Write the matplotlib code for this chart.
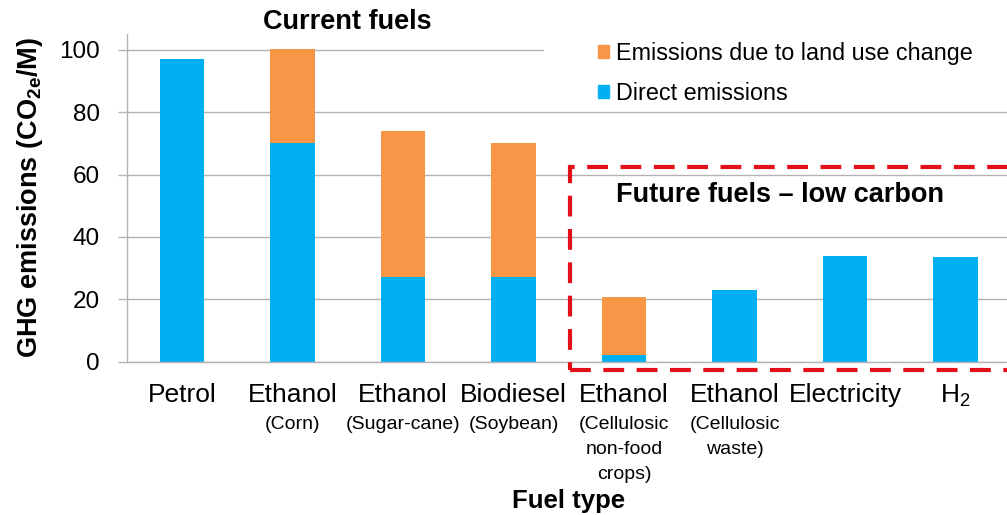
import matplotlib
matplotlib.use("agg")
import matplotlib.pyplot as plt
from matplotlib.patches import Patch, Rectangle
import numpy as np

plt.rcParams['font.family'] = ['Liberation Sans', 'DejaVu Sans']
plt.rcParams['mathtext.fontset'] = 'custom'
plt.rcParams['mathtext.rm'] = 'Liberation Sans'
plt.rcParams['mathtext.bf'] = 'Liberation Sans:bold'

# data
fuels = ['Petrol', 'Ethanol', 'Ethanol', 'Biodiesel', 'Ethanol', 'Ethanol',
         'Electricity', r'H$_\mathrm{2}$']
fuel_notes = [[], ['(Corn)'], ['(Sugar-cane)'], ['(Soybean)'],
              ['(Cellulosic', 'non-food', 'crops)'], ['(Cellulosic', 'waste)'],
              [], []]
direct = [97, 70, 27, 27, 2, 23, 34, 33.5]
land_use = [0, 30.3, 46.8, 43, 18.6, 0, 0, 0]
yticks = [0, 20, 40, 60, 80, 100]

blue = '#00B0F0'
orange = '#F79646'
grey = '#B3B3B3'

fig = plt.figure(figsize=(10.07, 5.15), dpi=100)
ax = fig.add_axes([0.1258, 0.2977, 0.8779, 0.636])

x = np.arange(len(fuels))
ax.bar(x, direct, width=0.4, color=blue, label='Direct emissions', zorder=2)
ax.bar(x, land_use, width=0.4, bottom=direct, color=orange,
       label='Emissions due to land use change', zorder=2)

ax.set_xlim(-0.5, len(fuels) - 0.5)
ax.set_ylim(0, 105)
ax.set_yticks(yticks)
ax.yaxis.grid(True, color=grey, linewidth=1.0)
ax.set_axisbelow(True)

for s in ['top', 'right']:
    ax.spines[s].set_visible(False)
for s in ['left', 'bottom']:
    ax.spines[s].set_color(grey)
    ax.spines[s].set_linewidth(1.0)

ax.tick_params(axis='y', length=6.5, color=grey, width=1.0, pad=13,
               labelsize=17.5)
ax.tick_params(axis='x', length=0, pad=15, labelsize=19)
ax.set_xticks(x)
ax.set_xticklabels(fuels)

# small second-line labels under the fuel names
for i, lines in enumerate(fuel_notes):
    for j, line in enumerate(lines):
        ax.annotate(line, xy=(i, 0), xycoords=('data', 'axes fraction'),
                    xytext=(0, -45 - 18.2 * j), textcoords='offset points',
                    ha='center', va='center', fontsize=14)

ax.annotate('Fuel type', xy=(0.5, 0), xycoords='axes fraction',
            xytext=(0, -100.5), textcoords='offset points',
            ha='center', va='center', fontsize=18.5, fontweight='bold')

ax.set_ylabel(r'GHG emissions (CO$_\mathbf{2e}$/M)', fontsize=19.5,
              fontweight='bold')
ax.yaxis.set_label_coords(-0.092, 0.5)

ax.text(1.5, 108.8, 'Current fuels', ha='center', va='center',
        fontsize=19.5, fontweight='bold', clip_on=False)
ax.text(3.93, 53.4, 'Future fuels \u2013 low carbon', ha='left', va='center',
        fontsize=19.5, fontweight='bold', zorder=4)

# dashed red box around the low-carbon group
box = Rectangle((3.51, -2.66), 4.2, 65.0, fill=False, edgecolor='#E3101A',
                linewidth=3, linestyle=(0, (5, 3)), clip_on=False, zorder=5)
ax.add_patch(box)

# white area behind the legend hides the 100 grid line there
cover = Rectangle((544 / 1007, 1 - 100 / 515), 0.47, 75 / 515,
                  transform=fig.transFigure, facecolor='white',
                  edgecolor='none', zorder=3)
fig.patches.append(cover)

handles = [Patch(color=orange), Patch(color=blue)]
labels = ['Emissions due to land use change', 'Direct emissions']
leg = fig.legend(handles, labels, loc='upper left',
                 bbox_to_anchor=(598 / 1007, 1 - 42 / 515),
                 frameon=False, fontsize=16.8, borderpad=0, borderaxespad=0,
                 handlelength=0.47, handleheight=0.47, handletextpad=0.3,
                 labelspacing=0.72)
leg.set_zorder(6)

fig.savefig('out.png', dpi=100)
